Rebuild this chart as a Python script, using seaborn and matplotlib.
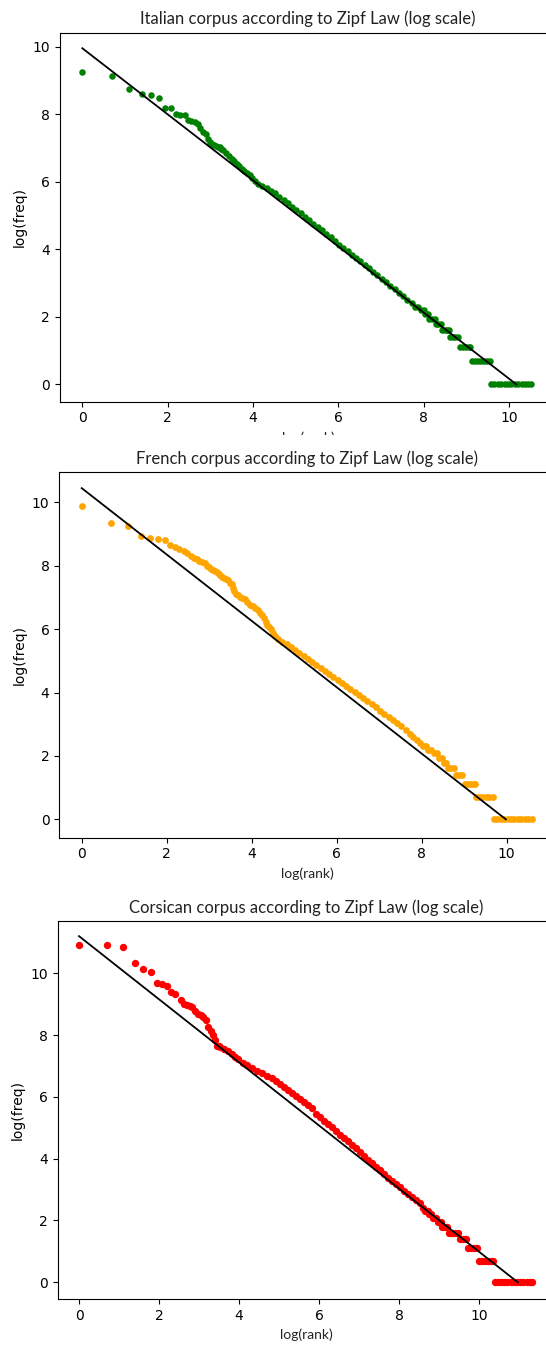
import matplotlib
matplotlib.use("Agg")
import matplotlib.pyplot as plt
import seaborn as sns
from matplotlib.patches import Rectangle

# ---------------- data ----------------
# Italian corpus: log(rank) / log(freq)
it_log_rank = [0.00, 0.69, 1.10, 1.39, 1.61, 1.79, 1.95, 2.08, 2.20, 2.30, 2.40, 2.48, 2.56, 2.64,
               2.71, 2.77, 2.83, 2.89, 2.94, 2.99, 3.04, 3.09, 3.14, 3.18, 3.22, 3.26, 3.30, 3.37,
               3.43, 3.50, 3.56, 3.62, 3.68, 3.74, 3.80, 3.86, 3.92, 3.98, 4.05, 4.13, 4.22, 4.32,
               4.42, 4.52, 4.62, 4.72, 4.82, 4.92, 5.02, 5.12, 5.22, 5.32, 5.42, 5.52, 5.62, 5.72,
               5.82, 5.92, 6.02, 6.12, 6.22, 6.32, 6.42, 6.52, 6.62, 6.72, 6.82, 6.92, 7.02, 7.12,
               7.22, 7.32, 7.42, 7.52, 7.62, 7.72, 7.80, 7.88, 7.93, 8.00, 8.04, 8.10, 8.13, 8.20,
               8.26, 8.29, 8.35, 8.40, 8.43, 8.50, 8.56, 8.59, 8.62, 8.68, 8.75, 8.82, 8.85, 8.92,
               8.99, 9.06, 9.09, 9.13, 9.20, 9.27, 9.34, 9.41, 9.48, 9.55, 9.58, 9.66, 9.74, 9.82,
               9.90, 9.98, 10.06, 10.14, 10.22, 10.30, 10.38, 10.46, 10.53]
it_log_freq = [9.24, 9.13, 8.73, 8.61, 8.56, 8.47, 8.17, 8.17, 8.00, 7.97, 7.97, 7.83, 7.80, 7.76,
               7.70, 7.58, 7.48, 7.40, 7.25, 7.18, 7.11, 7.08, 7.06, 7.04, 7.02, 6.98, 6.94, 6.86,
               6.76, 6.68, 6.60, 6.52, 6.46, 6.39, 6.33, 6.26, 6.19, 6.12, 6.03, 5.93, 5.88, 5.82,
               5.74, 5.66, 5.56, 5.46, 5.36, 5.26, 5.16, 5.06, 4.96, 4.86, 4.76, 4.66, 4.56, 4.46,
               4.35, 4.24, 4.14, 4.04, 3.94, 3.84, 3.74, 3.64, 3.54, 3.44, 3.33, 3.23, 3.13, 3.02,
               2.92, 2.82, 2.72, 2.62, 2.51, 2.41, 2.30, 2.30, 2.20, 2.20, 2.08, 2.08, 1.95, 1.95,
               1.95, 1.79, 1.79, 1.79, 1.61, 1.61, 1.61, 1.61, 1.39, 1.39, 1.39, 1.39, 1.10, 1.10,
               1.10, 1.10, 1.10, 0.69, 0.69, 0.69, 0.69, 0.69, 0.69, 0.69, 0.00, 0.00, 0.00, 0.00,
               0.00, 0.00, 0.00, 0.00, 0.00, 0.00, 0.00, 0.00, 0.00]
it_fit_x = [0.0, 10.18]
it_fit_y = [9.95, 0.0]

# French corpus
fr_log_rank = [0.00, 0.69, 1.10, 1.39, 1.61, 1.79, 1.95, 2.08, 2.20, 2.30, 2.40, 2.48, 2.56, 2.64,
               2.71, 2.77, 2.83, 2.89, 2.94, 3.00, 3.05, 3.09, 3.14, 3.18, 3.22, 3.26, 3.30, 3.35,
               3.40, 3.45, 3.50, 3.53, 3.56, 3.59, 3.63, 3.68, 3.72, 3.78, 3.84, 3.90, 3.96, 4.02,
               4.08, 4.14, 4.19, 4.24, 4.29, 4.33, 4.37, 4.41, 4.45, 4.50, 4.55, 4.63, 4.72, 4.82,
               4.92, 5.02, 5.12, 5.22, 5.32, 5.42, 5.52, 5.62, 5.72, 5.82, 5.92, 6.02, 6.12, 6.22,
               6.32, 6.42, 6.52, 6.62, 6.72, 6.82, 6.92, 7.02, 7.12, 7.22, 7.32, 7.42, 7.52, 7.62,
               7.72, 7.80, 7.88, 7.95, 8.02, 8.10, 8.16, 8.23, 8.28, 8.36, 8.41, 8.48, 8.52, 8.58,
               8.62, 8.70, 8.76, 8.80, 8.87, 8.94, 9.01, 9.08, 9.15, 9.22, 9.25, 9.27, 9.35, 9.43,
               9.51, 9.59, 9.68, 9.70, 9.78, 9.86, 9.94, 10.02, 10.10, 10.18, 10.26, 10.34, 10.42,
               10.50, 10.60]
fr_log_freq = [9.88, 9.35, 9.27, 8.94, 8.88, 8.84, 8.81, 8.65, 8.59, 8.53, 8.46, 8.40, 8.30, 8.26,
               8.22, 8.16, 8.12, 8.08, 8.00, 7.95, 7.90, 7.86, 7.83, 7.80, 7.74, 7.70, 7.66, 7.63,
               7.58, 7.54, 7.46, 7.41, 7.30, 7.20, 7.11, 7.07, 7.03, 6.99, 6.95, 6.86, 6.77, 6.72,
               6.66, 6.59, 6.52, 6.44, 6.35, 6.24, 6.14, 6.07, 6.00, 5.88, 5.77, 5.68, 5.61, 5.52,
               5.43, 5.34, 5.24, 5.15, 5.06, 4.97, 4.87, 4.78, 4.68, 4.59, 4.50, 4.40, 4.31, 4.21,
               4.11, 4.02, 3.92, 3.82, 3.73, 3.63, 3.53, 3.43, 3.33, 3.23, 3.13, 3.03, 2.93, 2.83,
               2.70, 2.60, 2.50, 2.40, 2.30, 2.30, 2.20, 2.20, 2.08, 2.08, 1.95, 1.95, 1.79, 1.79,
               1.61, 1.61, 1.61, 1.39, 1.39, 1.39, 1.10, 1.10, 1.10, 1.10, 1.10, 0.69, 0.69, 0.69,
               0.69, 0.69, 0.69, 0.00, 0.00, 0.00, 0.00, 0.00, 0.00, 0.00, 0.00, 0.00, 0.00,
               0.00, 0.00]
fr_fit_x = [0.0, 9.98]
fr_fit_y = [10.45, 0.0]

# Corsican corpus
co_log_rank = [0.00, 0.69, 1.10, 1.39, 1.61, 1.79, 1.95, 2.08, 2.20, 2.30, 2.40, 2.54, 2.63, 2.71,
               2.77, 2.82, 2.90, 2.98, 3.04, 3.09, 3.17, 3.23, 3.29, 3.34, 3.40, 3.44, 3.49, 3.53,
               3.63, 3.73, 3.82, 3.90, 3.98, 4.09, 4.19, 4.32, 4.44, 4.57, 4.69, 4.82, 4.92, 5.02,
               5.12, 5.22, 5.32, 5.42, 5.52, 5.62, 5.72, 5.82, 5.92, 6.02, 6.12, 6.22, 6.32, 6.42,
               6.52, 6.62, 6.72, 6.82, 6.92, 7.02, 7.12, 7.22, 7.32, 7.42, 7.52, 7.62, 7.72, 7.82,
               7.92, 8.02, 8.12, 8.22, 8.32, 8.42, 8.52, 8.60, 8.66, 8.72, 8.76, 8.81, 8.86, 8.93,
               8.97, 9.04, 9.08, 9.15, 9.21, 9.26, 9.33, 9.41, 9.48, 9.52, 9.60, 9.68, 9.72, 9.80,
               9.88, 9.95, 9.99, 10.07, 10.15, 10.23, 10.30, 10.34, 10.39, 10.47, 10.55, 10.63,
               10.71, 10.79, 10.87, 10.95, 11.03, 11.11, 11.19, 11.27, 11.33]
co_log_freq = [10.92, 10.92, 10.85, 10.32, 10.13, 10.05, 9.70, 9.64, 9.59, 9.40, 9.33, 9.14, 9.01,
               8.96, 8.93, 8.90, 8.79, 8.68, 8.64, 8.60, 8.49, 8.27, 8.13, 8.00, 7.84, 7.65, 7.63,
               7.61, 7.54, 7.47, 7.38, 7.30, 7.22, 7.11, 7.02, 6.93, 6.85, 6.76, 6.68, 6.60, 6.50,
               6.41, 6.32, 6.23, 6.13, 6.04, 5.94, 5.84, 5.74, 5.63, 5.46, 5.34, 5.23, 5.12, 5.01,
               4.90, 4.78, 4.67, 4.56, 4.45, 4.33, 4.21, 4.09, 3.97, 3.85, 3.73, 3.62, 3.50, 3.38,
               3.28, 3.17, 3.07, 2.97, 2.87, 2.77, 2.66, 2.56, 2.40, 2.30, 2.30, 2.20, 2.20, 2.08,
               2.08, 1.95, 1.95, 1.79, 1.79, 1.79, 1.61, 1.61, 1.61, 1.61, 1.39, 1.39, 1.39, 1.10,
               1.10, 1.10, 1.10, 0.69, 0.69, 0.69, 0.69, 0.69, 0.69, 0.00, 0.00, 0.00, 0.00, 0.00,
               0.00, 0.00, 0.00, 0.00, 0.00, 0.00, 0.00, 0.00]
co_fit_x = [0.0, 10.97]
co_fit_y = [11.2, 0.0]

titles = ["Italian corpus according to Zipf Law (log scale)",
          "French corpus according to Zipf Law (log scale)",
          "Corsican corpus according to Zipf Law (log scale)"]
colors = ["green", "orange", "red"]

# ---------------- layout ----------------
W, H = 546, 1349
plt.rcParams["font.family"] = ["DejaVu Sans"]
fig = plt.figure(figsize=(W / 100, H / 100), dpi=100)


def add_axes_px(left, top, right, bottom):
    return fig.add_axes([left / W, 1 - bottom / H, (right - left) / W, (bottom - top) / H])


panels = [
    dict(x=it_log_rank, y=it_log_freq, fx=it_fit_x, fy=it_fit_y, box=(59.5, 32.7, 557, 401.7),
         xlim=(-0.535, 11.13), ylim=(-0.51, 10.41), s=22, pad=6),
    dict(x=fr_log_rank, y=fr_log_freq, fx=fr_fit_x, fy=fr_fit_y, box=(59.2, 472.3, 554.7, 837.7),
         xlim=(-0.53, 11.13), ylim=(-0.58, 10.95), s=24, pad=6),
    dict(x=co_log_rank, y=co_log_freq, fx=co_fit_x, fy=co_fit_y, box=(57.8, 921, 555, 1299.3),
         xlim=(-0.53, 11.9), ylim=(-0.55, 11.69), s=28, pad=6),
]

for i, p in enumerate(panels):
    ax = add_axes_px(*p["box"])
    ax.set_zorder(i)
    sns.scatterplot(x=p["x"], y=p["y"], color=colors[i], s=p["s"], linewidth=0, ax=ax, zorder=2)
    sns.lineplot(x=p["fx"], y=p["fy"], color="black", linewidth=1.3, ax=ax, zorder=3)
    ax.set_xlim(*p["xlim"])
    ax.set_ylim(*p["ylim"])
    ax.set_xticks([0, 2, 4, 6, 8, 10])
    ax.set_yticks([0, 2, 4, 6, 8, 10])
    ax.tick_params(labelsize=10, length=3.5)
    ax.set_title(titles[i], family="Lato", fontsize=12, color="#222222", pad=p["pad"])
    ax.set_xlabel("log(rank)", family="Lato", fontsize=10, color="#222222")
    ax.set_ylabel("log(freq)", fontsize=10)

# the first panel's x label is cut by the panel pasted below it
fig.patches.append(Rectangle((0, 1 - 470 / H), 1, 35 / H, transform=fig.transFigure,
                             facecolor="white", edgecolor="none", zorder=0.5))

fig.savefig("out.png", dpi=100, facecolor="white")
